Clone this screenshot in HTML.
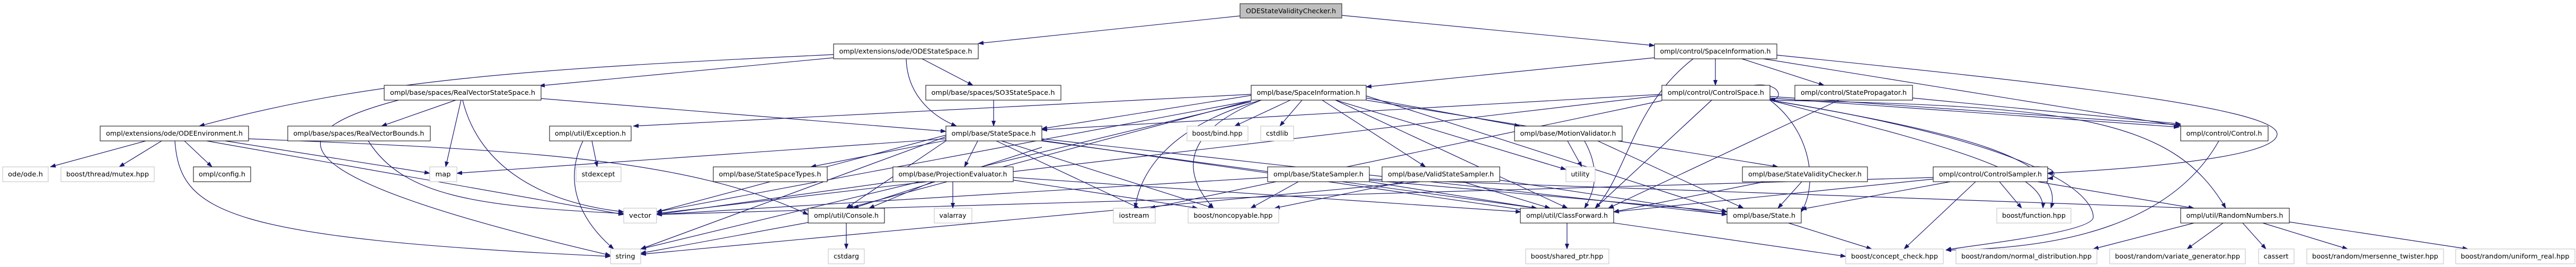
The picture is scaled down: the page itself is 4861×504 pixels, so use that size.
<!DOCTYPE html>
<html><head><meta charset="utf-8"><style>
html,body{margin:0;padding:0;background:#fff}
svg{display:block}
text{font-family:"DejaVu Sans","Liberation Sans",sans-serif;font-size:12px;fill:#000}
</style></head><body>
<svg id="g" width="4861" height="504" viewBox="0 0 4861 504" xmlns="http://www.w3.org/2000/svg">
<defs><marker id="a" markerWidth="11" markerHeight="8" refX="10" refY="4" orient="auto" markerUnits="userSpaceOnUse"><path d="M0,0 L11,4 L0,8 z" fill="#191970"/></marker></defs>
<g id="edges" fill="none" stroke="#191970" stroke-width="1.2"></g>
<g id="nodes">
<rect x="2340" y="7" width="192" height="27" fill="#bfbfbf" stroke="#404040" stroke-width="1.3"/><text x="2436" y="25" text-anchor="middle" textLength="170" lengthAdjust="spacingAndGlyphs">ODEStateValidityChecker.h</text>
<rect x="1573" y="83" width="273" height="28" fill="#fff" stroke="#000"/><text x="1709" y="101" text-anchor="middle" textLength="251" lengthAdjust="spacingAndGlyphs">ompl/extensions/ode/ODEStateSpace.h</text>
<rect x="3122" y="83" width="231" height="28" fill="#fff" stroke="#000"/><text x="3237" y="101" text-anchor="middle" textLength="209" lengthAdjust="spacingAndGlyphs">ompl/control/SpaceInformation.h</text>
<rect x="725" y="161" width="296" height="28" fill="#fff" stroke="#000"/><text x="873" y="179" text-anchor="middle" textLength="274" lengthAdjust="spacingAndGlyphs">ompl/base/spaces/RealVectorStateSpace.h</text>
<rect x="1747" y="161" width="255" height="28" fill="#fff" stroke="#000"/><text x="1874" y="179" text-anchor="middle" textLength="233" lengthAdjust="spacingAndGlyphs">ompl/base/spaces/SO3StateSpace.h</text>
<rect x="2361" y="161" width="217" height="28" fill="#fff" stroke="#000"/><text x="2469" y="179" text-anchor="middle" textLength="195" lengthAdjust="spacingAndGlyphs">ompl/base/SpaceInformation.h</text>
<rect x="3136" y="161" width="204" height="28" fill="#fff" stroke="#000"/><text x="3238" y="179" text-anchor="middle" textLength="182" lengthAdjust="spacingAndGlyphs">ompl/control/ControlSpace.h</text>
<rect x="3387" y="161" width="222" height="28" fill="#fff" stroke="#000"/><text x="3498" y="179" text-anchor="middle" textLength="200" lengthAdjust="spacingAndGlyphs">ompl/control/StatePropagator.h</text>
<rect x="189" y="238" width="280" height="28" fill="#fff" stroke="#000"/><text x="329" y="256" text-anchor="middle" textLength="258" lengthAdjust="spacingAndGlyphs">ompl/extensions/ode/ODEEnvironment.h</text>
<rect x="543" y="238" width="269" height="28" fill="#fff" stroke="#000"/><text x="677" y="256" text-anchor="middle" textLength="247" lengthAdjust="spacingAndGlyphs">ompl/base/spaces/RealVectorBounds.h</text>
<rect x="1037" y="238" width="154" height="28" fill="#fff" stroke="#000"/><text x="1114" y="256" text-anchor="middle" textLength="134" lengthAdjust="spacingAndGlyphs">ompl/util/Exception.h</text>
<rect x="1785" y="238" width="181" height="28" fill="#fff" stroke="#000"/><text x="1875" y="256" text-anchor="middle" textLength="159" lengthAdjust="spacingAndGlyphs">ompl/base/StateSpace.h</text>
<rect x="2240" y="238" width="115" height="28" fill="#fff" stroke="#bfbfbf"/><text x="2297" y="256" text-anchor="middle" textLength="95" lengthAdjust="spacingAndGlyphs">boost/bind.hpp</text>
<rect x="2379" y="238" width="62" height="28" fill="#fff" stroke="#bfbfbf"/><text x="2410" y="256" text-anchor="middle" textLength="42" lengthAdjust="spacingAndGlyphs">cstdlib</text>
<rect x="2858" y="238" width="203" height="28" fill="#fff" stroke="#000"/><text x="2959" y="256" text-anchor="middle" textLength="181" lengthAdjust="spacingAndGlyphs">ompl/base/MotionValidator.h</text>
<rect x="4115" y="238" width="165" height="28" fill="#fff" stroke="#000"/><text x="4197" y="256" text-anchor="middle" textLength="143" lengthAdjust="spacingAndGlyphs">ompl/control/Control.h</text>
<rect x="5" y="315" width="86" height="28" fill="#fff" stroke="#bfbfbf"/><text x="48" y="333" text-anchor="middle" textLength="66" lengthAdjust="spacingAndGlyphs">ode/ode.h</text>
<rect x="115" y="315" width="176" height="28" fill="#fff" stroke="#bfbfbf"/><text x="203" y="333" text-anchor="middle" textLength="156" lengthAdjust="spacingAndGlyphs">boost/thread/mutex.hpp</text>
<rect x="365" y="315" width="108" height="28" fill="#fff" stroke="#000"/><text x="419" y="333" text-anchor="middle" textLength="88" lengthAdjust="spacingAndGlyphs">ompl/config.h</text>
<rect x="811" y="315" width="51" height="28" fill="#fff" stroke="#bfbfbf"/><text x="836" y="333" text-anchor="middle" textLength="29" lengthAdjust="spacingAndGlyphs">map</text>
<rect x="1087" y="315" width="85" height="28" fill="#fff" stroke="#bfbfbf"/><text x="1129" y="333" text-anchor="middle" textLength="63" lengthAdjust="spacingAndGlyphs">stdexcept</text>
<rect x="1346" y="315" width="215" height="28" fill="#fff" stroke="#000"/><text x="1453" y="333" text-anchor="middle" textLength="193" lengthAdjust="spacingAndGlyphs">ompl/base/StateSpaceTypes.h</text>
<rect x="1685" y="315" width="227" height="28" fill="#fff" stroke="#000"/><text x="1798" y="333" text-anchor="middle" textLength="205" lengthAdjust="spacingAndGlyphs">ompl/base/ProjectionEvaluator.h</text>
<rect x="2392" y="315" width="192" height="28" fill="#fff" stroke="#000"/><text x="2488" y="333" text-anchor="middle" textLength="170" lengthAdjust="spacingAndGlyphs">ompl/base/StateSampler.h</text>
<rect x="2608" y="315" width="222" height="28" fill="#fff" stroke="#000"/><text x="2719" y="333" text-anchor="middle" textLength="200" lengthAdjust="spacingAndGlyphs">ompl/base/ValidStateSampler.h</text>
<rect x="2955" y="315" width="55" height="28" fill="#fff" stroke="#bfbfbf"/><text x="2982" y="333" text-anchor="middle" textLength="35" lengthAdjust="spacingAndGlyphs">utility</text>
<rect x="3288" y="315" width="236" height="28" fill="#fff" stroke="#000"/><text x="3406" y="333" text-anchor="middle" textLength="214" lengthAdjust="spacingAndGlyphs">ompl/base/StateValidityChecker.h</text>
<rect x="3648" y="315" width="216" height="28" fill="#fff" stroke="#000"/><text x="3756" y="333" text-anchor="middle" textLength="194" lengthAdjust="spacingAndGlyphs">ompl/control/ControlSampler.h</text>
<rect x="1177" y="393" width="62" height="28" fill="#fff" stroke="#bfbfbf"/><text x="1208" y="411" text-anchor="middle" textLength="42" lengthAdjust="spacingAndGlyphs">vector</text>
<rect x="1525" y="393" width="144" height="28" fill="#fff" stroke="#000"/><text x="1597" y="411" text-anchor="middle" textLength="122" lengthAdjust="spacingAndGlyphs">ompl/util/Console.h</text>
<rect x="1763" y="393" width="71" height="28" fill="#fff" stroke="#bfbfbf"/><text x="1798" y="411" text-anchor="middle" textLength="51" lengthAdjust="spacingAndGlyphs">valarray</text>
<rect x="2101" y="393" width="79" height="28" fill="#fff" stroke="#bfbfbf"/><text x="2140" y="411" text-anchor="middle" textLength="57" lengthAdjust="spacingAndGlyphs">iostream</text>
<rect x="2242" y="393" width="171" height="28" fill="#fff" stroke="#bfbfbf"/><text x="2327" y="411" text-anchor="middle" textLength="149" lengthAdjust="spacingAndGlyphs">boost/noncopyable.hpp</text>
<rect x="2869" y="393" width="176" height="28" fill="#fff" stroke="#000"/><text x="2957" y="411" text-anchor="middle" textLength="154" lengthAdjust="spacingAndGlyphs">ompl/util/ClassForward.h</text>
<rect x="3259" y="393" width="140" height="28" fill="#fff" stroke="#000"/><text x="3329" y="411" text-anchor="middle" textLength="118" lengthAdjust="spacingAndGlyphs">ompl/base/State.h</text>
<rect x="3768" y="393" width="140" height="28" fill="#fff" stroke="#bfbfbf"/><text x="3838" y="411" text-anchor="middle" textLength="120" lengthAdjust="spacingAndGlyphs">boost/function.hpp</text>
<rect x="4115" y="393" width="205" height="28" fill="#fff" stroke="#000"/><text x="4217" y="411" text-anchor="middle" textLength="183" lengthAdjust="spacingAndGlyphs">ompl/util/RandomNumbers.h</text>
<rect x="1152" y="470" width="57" height="28" fill="#fff" stroke="#bfbfbf"/><text x="1180" y="488" text-anchor="middle" textLength="37" lengthAdjust="spacingAndGlyphs">string</text>
<rect x="1563" y="470" width="68" height="28" fill="#fff" stroke="#bfbfbf"/><text x="1597" y="488" text-anchor="middle" textLength="48" lengthAdjust="spacingAndGlyphs">cstdarg</text>
<rect x="2879" y="470" width="157" height="28" fill="#fff" stroke="#bfbfbf"/><text x="2957" y="488" text-anchor="middle" textLength="137" lengthAdjust="spacingAndGlyphs">boost/shared_ptr.hpp</text>
<rect x="3483" y="470" width="184" height="28" fill="#fff" stroke="#bfbfbf"/><text x="3575" y="488" text-anchor="middle" textLength="164" lengthAdjust="spacingAndGlyphs">boost/concept_check.hpp</text>
<rect x="3691" y="470" width="266" height="28" fill="#fff" stroke="#bfbfbf"/><text x="3824" y="488" text-anchor="middle" textLength="246" lengthAdjust="spacingAndGlyphs">boost/random/normal_distribution.hpp</text>
<rect x="3981" y="470" width="256" height="28" fill="#fff" stroke="#bfbfbf"/><text x="4109" y="488" text-anchor="middle" textLength="236" lengthAdjust="spacingAndGlyphs">boost/random/variate_generator.hpp</text>
<rect x="4262" y="470" width="67" height="28" fill="#fff" stroke="#bfbfbf"/><text x="4295" y="488" text-anchor="middle" textLength="47" lengthAdjust="spacingAndGlyphs">cassert</text>
<rect x="4353" y="470" width="258" height="28" fill="#fff" stroke="#bfbfbf"/><text x="4482" y="488" text-anchor="middle" textLength="238" lengthAdjust="spacingAndGlyphs">boost/random/mersenne_twister.hpp</text>
<rect x="4634" y="470" width="225" height="28" fill="#fff" stroke="#bfbfbf"/><text x="4746" y="488" text-anchor="middle" textLength="205" lengthAdjust="spacingAndGlyphs">boost/random/uniform_real.hpp</text>
</g>
</svg>
<script>
(function(){
var E=[
[2340,30,1846,82],[2532,29,3122,86],
[1573,103,376,238,'C1000,130 700,150 376,238'],[1573,109,1018,162],[1740,111,1836,161],[1710,111,1805,238,'C1712,180 1760,220 1805,238'],
[3122,109,2578,164],[3237,111,3237,161],[3287,111,3442,161],[3328,111,4115,238],
[3353,104,3864,327,'C3800,150 4297,200 4297,253 C4297,300 4000,320 3864,327'],
[3195,111,3010,393,'C3080,200 3070,330 3010,393'],
[3310,161,3340,187,'C3365,155 3365,192 3340,187'],[3340,182,4115,236],[3340,185,4112,240],[3340,189,4200,393,'C3900,200 4100,220 4200,393'],[3340,189,3870,393,'C3700,250 3900,300 3870,393'],[3340,189,3855,393,'C3650,270 3860,320 3855,393'],
[3340,189,3672,472,'C3900,280 3950,380 3950,410 C3950,440 3700,465 3672,472'],
[3230,189,3010,393],[3340,189,3399,400,'C3420,250 3430,350 3399,400'],[3136,178,1966,245],[3136,180,1239,403],[3136,190,2170,393],
[3470,189,3035,393],[3609,185,4115,234],
[2435,189,2330,238],[2457,189,2415,238],[2578,185,2868,238],[2520,189,2955,320],[2495,189,2690,315],
[2361,180,1966,243],[2361,178,1195,238],[2361,190,1239,400],[2361,192,1209,470],[2520,189,2958,393],[2578,181,3259,400],
[2380,189,2142,393,'C2200,240 2150,330 2142,393'],[2380,189,2290,393,'C2200,260 2250,350 2290,393'],[2578,189,3355,315],[2361,190,1600,393],
[1875,189,1875,238],
[860,189,720,238],[870,189,841,315],[1021,186,1785,248],[873,189,1177,400,'C900,300 1000,380 1177,400'],
[752,189,1152,482,'C520,250 500,330 1152,482'],
[275,266,95,315],[305,266,225,315],[348,266,400,315],[425,266,811,327],[390,266,1177,405],[469,262,1525,405,'C1000,283 1300,300 1525,405'],
[330,266,1152,484,'C340,400 420,450 1152,484'],
[695,266,1177,403,'C760,370 900,390 1177,403'],
[1117,266,1127,315],[1100,266,1158,470,'C1060,350 1100,420 1158,470'],
[1785,265,1530,315],[1845,266,1820,315],[1785,266,1597,393],[1966,278,1610,393],[1785,255,1239,400],[1785,258,1209,470],[1785,262,862,327],
[1966,266,2900,393],[1966,262,3259,405],[1880,266,2150,393],[1890,266,2290,393],[1966,265,3483,484],
[1798,343,1798,393],[1760,343,1640,393],[1685,343,1239,405],[1912,335,2870,400],[1912,340,2260,393],
[1597,421,1597,470],[1525,420,1209,478],
[2450,343,2360,393],[2584,343,2900,393],[2584,340,3259,400],[2584,338,4140,393],[2392,335,1239,405],
[2760,343,2925,393],[2830,340,3259,405],[2650,343,2405,393],[2680,343,1209,480],
[2958,266,2985,315],[2990,266,2990,393,'C3020,320 3010,360 2990,393'],[3015,266,3290,393],
[3330,343,3045,400],[3400,343,3355,393],
[3835,315,3864,337,'C3880,312 3885,335 3864,337'],
[3773,343,3815,393],[3728,343,3593,470],[3648,338,3045,400],[3680,343,3399,395],[3845,343,4140,393],[3648,335,1239,405],
[3375,421,3532,470],[2957,421,2957,470],
[4187,266,3672,472,'C4100,420 3900,470 3672,472'],
[4195,421,4127,470],[4232,421,4276,470],[4270,421,4430,470],[4320,419,4657,470],[4140,421,3950,470]
];
var g=document.getElementById('edges'),ns='http://www.w3.org/2000/svg';
E.forEach(function(e){
var d;
if(e[4])d='M'+e[0]+','+e[1]+' '+e[4];
else d='M'+e[0]+','+e[1]+' L'+e[2]+','+e[3];
var p=document.createElementNS(ns,'path');p.setAttribute('d',d);p.setAttribute('marker-end','url(#a)');g.appendChild(p);
});
})();
</script>
</body></html>
